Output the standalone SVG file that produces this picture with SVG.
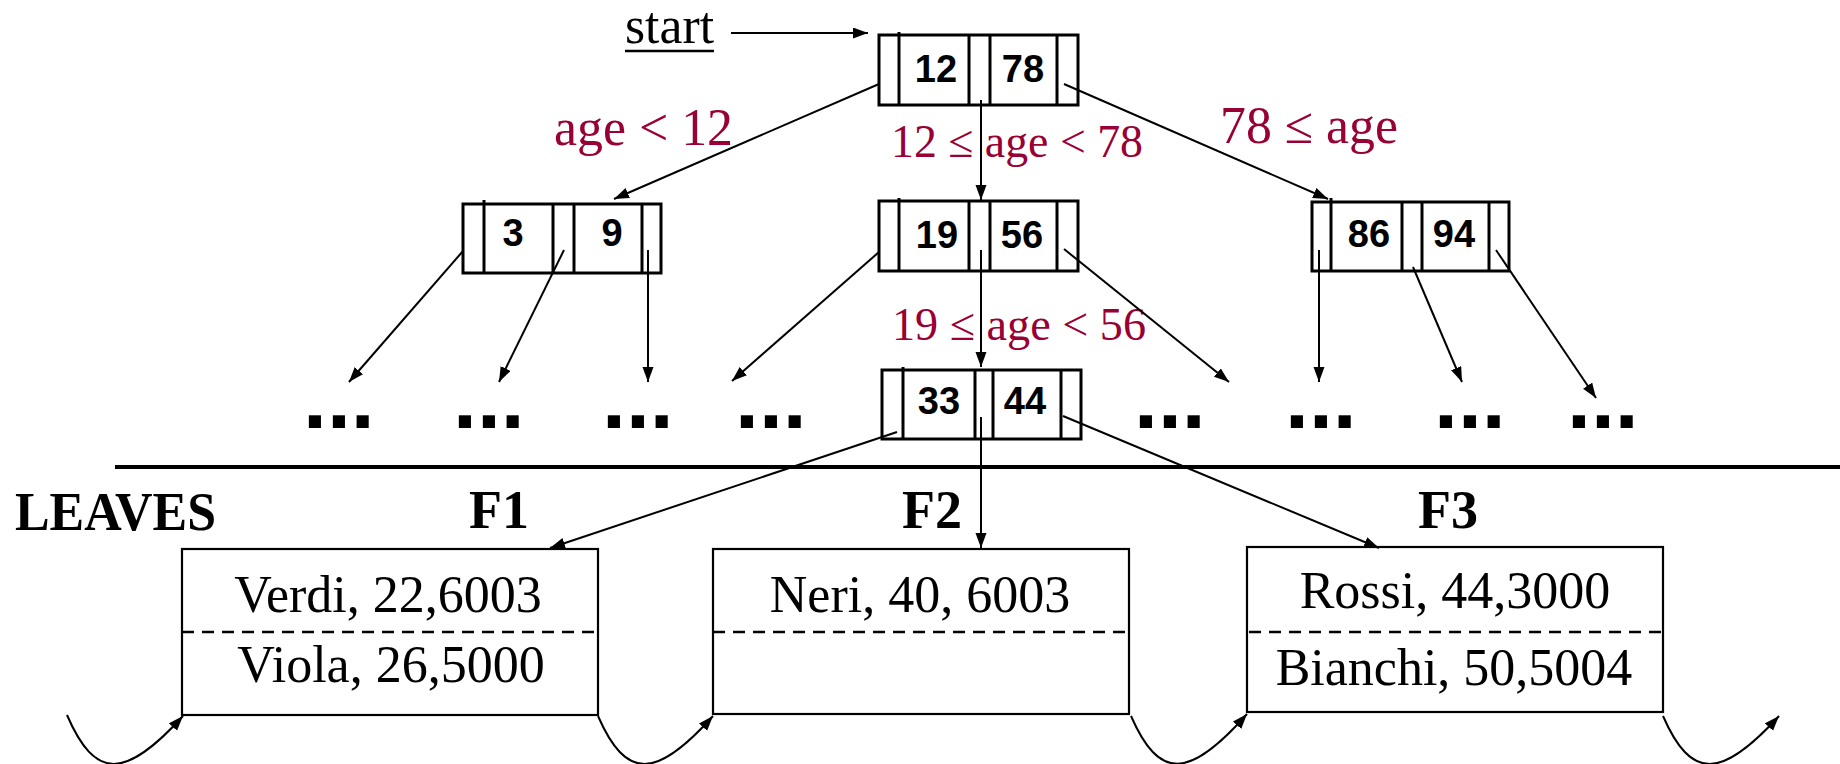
<svg xmlns="http://www.w3.org/2000/svg" width="1840" height="764" viewBox="0 0 1840 764">
<defs>
<marker id="ah" markerUnits="userSpaceOnUse" markerWidth="16" markerHeight="12" refX="15" refY="5.5" orient="auto">
<path d="M0,0 L15,5.5 L0,11 z" fill="#000"/>
</marker>
<style>
.nb{fill:#fff;stroke:#000;stroke-width:3}
.nv{stroke:#000;stroke-width:3}
.nt{font-family:"Liberation Sans",Arial,sans-serif;font-weight:bold;font-size:38px;fill:#000;text-anchor:middle}
.cn{fill:none;stroke:#000;stroke-width:2;marker-end:url(#ah)}
.lbl{font-family:"Liberation Serif","Times New Roman",serif;fill:#990033}
.leaf{fill:#fff;stroke:#000;stroke-width:2.2}
.dash{stroke:#000;stroke-width:2.5;stroke-dasharray:12,8}
.lt{font-family:"Liberation Serif","Times New Roman",serif;font-size:52px;fill:#000;text-anchor:middle}
.hd{font-family:"Liberation Serif","Times New Roman",serif;font-size:54px;font-weight:bold;fill:#000}
.dots{font-family:"Liberation Sans",Arial,sans-serif;font-weight:bold;font-size:86px;fill:#000}
</style>
</defs>
<rect width="1840" height="764" fill="#fff"/>

<g id="start">
<text x="625" y="43" font-family="Liberation Serif, Times New Roman, serif" font-size="52" textLength="89" lengthAdjust="spacingAndGlyphs">start</text>
<line x1="625" y1="51" x2="714" y2="51" stroke="#000" stroke-width="2.5"/>
</g>

<g id="root">
<rect class="nb" x="879" y="35" width="199" height="70"/>
<line class="nv" x1="899" y1="32" x2="899" y2="105"/>
<line class="nv" x1="969" y1="35" x2="969" y2="105"/>
<line class="nv" x1="990" y1="35" x2="990" y2="105"/>
<line class="nv" x1="1057" y1="35" x2="1057" y2="105"/>
<text class="nt" x="936" y="82">12</text>
<text class="nt" x="1023" y="82">78</text>
</g>

<g id="n39">
<rect class="nb" x="463" y="204" width="198" height="69"/>
<line class="nv" x1="484" y1="200" x2="484" y2="273"/>
<line class="nv" x1="553" y1="204" x2="553" y2="273"/>
<line class="nv" x1="574" y1="204" x2="574" y2="273"/>
<line class="nv" x1="642" y1="204" x2="642" y2="273"/>
<text class="nt" x="513" y="246">3</text>
<text class="nt" x="612" y="246">9</text>
</g>

<g id="n1956">
<rect class="nb" x="879" y="201" width="199" height="70"/>
<line class="nv" x1="899" y1="198" x2="899" y2="271"/>
<line class="nv" x1="969" y1="201" x2="969" y2="271"/>
<line class="nv" x1="990" y1="201" x2="990" y2="271"/>
<line class="nv" x1="1057" y1="201" x2="1057" y2="271"/>
<text class="nt" x="937" y="248">19</text>
<text class="nt" x="1022" y="248">56</text>
</g>

<g id="n8694">
<rect class="nb" x="1312" y="202" width="197" height="69"/>
<line class="nv" x1="1331" y1="198" x2="1331" y2="271"/>
<line class="nv" x1="1402" y1="202" x2="1402" y2="271"/>
<line class="nv" x1="1422" y1="202" x2="1422" y2="271"/>
<line class="nv" x1="1489" y1="202" x2="1489" y2="271"/>
<text class="nt" x="1369" y="247">86</text>
<text class="nt" x="1454" y="247">94</text>
</g>

<g id="n3344">
<rect class="nb" x="882" y="370" width="199" height="69"/>
<line class="nv" x1="903" y1="367" x2="903" y2="439"/>
<line class="nv" x1="975" y1="370" x2="975" y2="439"/>
<line class="nv" x1="993" y1="370" x2="993" y2="439"/>
<line class="nv" x1="1061" y1="370" x2="1061" y2="439"/>
<text class="nt" x="939" y="414">33</text>
<text class="nt" x="1025" y="414">44</text>
</g>

<g id="labels">
<text class="lbl" x="554" y="145" font-size="52" textLength="179" lengthAdjust="spacingAndGlyphs">age &lt; 12</text>
<text class="lbl" x="891" y="157" font-size="46" textLength="252" lengthAdjust="spacingAndGlyphs">12 ≤ age &lt; 78</text>
<text class="lbl" x="1220" y="143" font-size="52" textLength="178" lengthAdjust="spacingAndGlyphs">78 ≤ age</text>
<text class="lbl" x="892" y="340" font-size="46" textLength="254" lengthAdjust="spacingAndGlyphs">19 ≤ age &lt; 56</text>
</g>

<g id="more">
<text class="dots" x="303" y="428">...</text>
<text class="dots" x="453" y="428">...</text>
<text class="dots" x="602" y="428">...</text>
<text class="dots" x="735" y="428">...</text>
<text class="dots" x="1134" y="428">...</text>
<text class="dots" x="1285" y="428">...</text>
<text class="dots" x="1434" y="428">...</text>
<text class="dots" x="1567" y="428">...</text>
</g>

<line id="separator" x1="115" y1="467" x2="1840" y2="467" stroke="#000" stroke-width="4"/>

<g id="headings">
<text class="hd" x="15" y="530" textLength="201" lengthAdjust="spacingAndGlyphs">LEAVES</text>
<text class="hd" x="469" y="528">F1</text>
<text class="hd" x="902" y="528">F2</text>
<text class="hd" x="1418" y="528">F3</text>
</g>

<g id="leafF1">
<rect class="leaf" x="182" y="549" width="416" height="166"/>
<line class="dash" x1="182" y1="632" x2="598" y2="632"/>
<text class="lt" x="388" y="612">Verdi, 22,6003</text>
<text class="lt" x="391" y="682">Viola, 26,5000</text>
</g>

<g id="leafF2">
<rect class="leaf" x="713" y="549" width="416" height="165"/>
<line class="dash" x1="713" y1="632" x2="1131" y2="632"/>
<text class="lt" x="920" y="612">Neri, 40, 6003</text>
</g>

<g id="leafF3">
<rect class="leaf" x="1247" y="547" width="416" height="165"/>
<line class="dash" x1="1249" y1="632" x2="1665" y2="632"/>
<text class="lt" x="1455" y="608">Rossi, 44,3000</text>
<text class="lt" x="1454" y="685">Bianchi, 50,5004</text>
</g>

<g id="connectors">
<path class="cn" d="M731,33 L868,33"/>
<path class="cn" d="M879,84 L614,199"/>
<path class="cn" d="M981,100 L981,200"/>
<path class="cn" d="M1064,84 L1328,199"/>
<path class="cn" d="M463,251 L349,382"/>
<path class="cn" d="M564,250 L499,382"/>
<path class="cn" d="M648,250 L648,382"/>
<path class="cn" d="M879,252 L732,381"/>
<path class="cn" d="M981,250 L981,367"/>
<path class="cn" d="M1064,249 L1229,382"/>
<path class="cn" d="M1319,250 L1319,382"/>
<path class="cn" d="M1413,267 L1462,382"/>
<path class="cn" d="M1496,250 L1596,398"/>
<path class="cn" d="M897,432 L550,548"/>
<path class="cn" d="M981,417 L981,548"/>
<path class="cn" d="M1063,416 L1379,548"/>
<path class="cn" d="M67,715 C95,780 125,780 183,716"/>
<path class="cn" d="M598,716 C626,780 656,780 713,716"/>
<path class="cn" d="M1131,716 C1159,780 1189,780 1247,714"/>
<path class="cn" d="M1663,716 C1691,780 1721,780 1779,716"/>
</g>
</svg>
